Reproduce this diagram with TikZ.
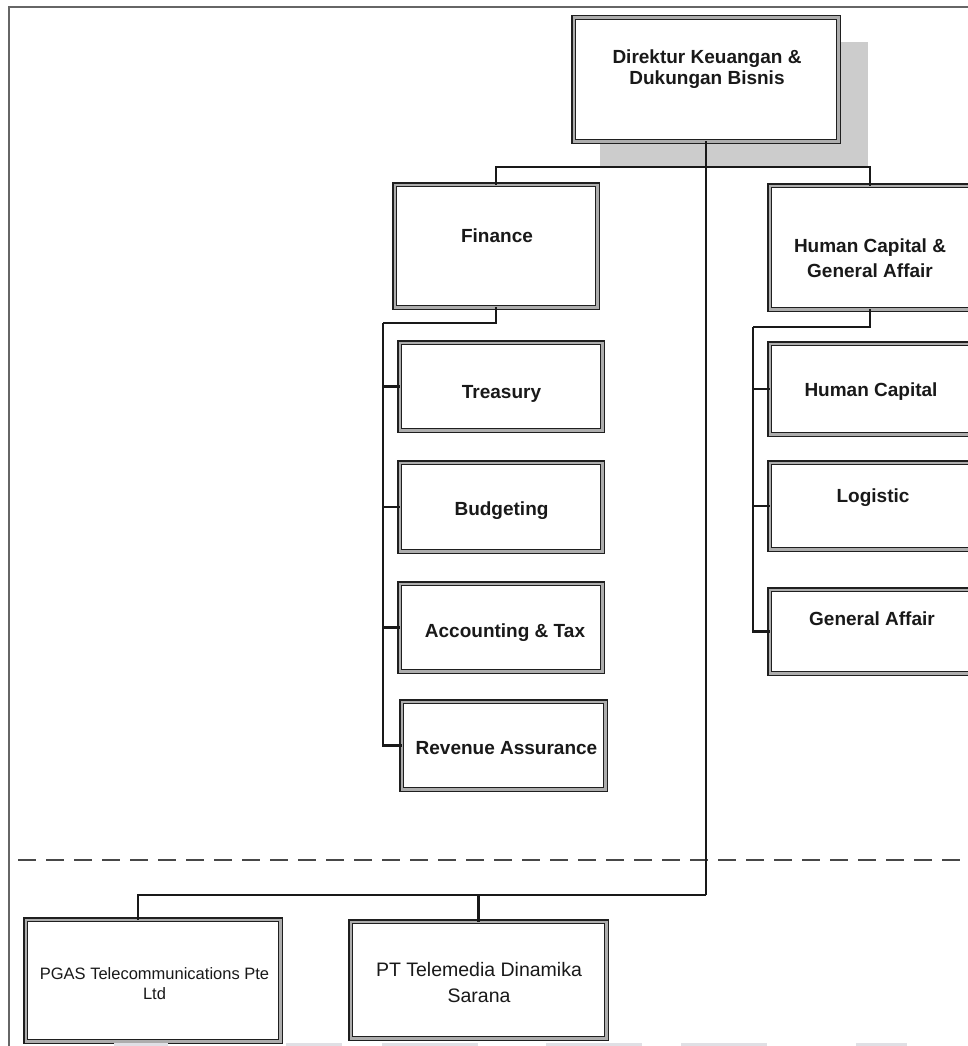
\documentclass[tikz,border=0pt]{standalone}
\usepackage{fontspec}
\setmainfont{Liberation Sans}
\begin{document}
\begin{tikzpicture}[x=1pt,y=-1pt,
  box/.style={draw=black!88, double=black!32, double distance=2.4pt, line width=1.5pt, fill=white, inner sep=0pt, outer sep=0pt},
  conn/.style={draw=black!90, line width=2.3pt},
  lbl/.style={font=\fontsize{19}{21}\selectfont\bfseries, text=black!90, inner sep=0pt, align=center},
  lblhc/.style={lbl, font=\fontsize{19}{25}\selectfont\bfseries},
  lblsm/.style={font=\fontsize{16.5}{20}\selectfont, text=black!90, inner sep=0pt, align=center},
  lblreg/.style={font=\fontsize{19.5}{26}\selectfont, text=black!90, inner sep=0pt, align=center},
  frameline/.style={draw=black!60, line width=1.8pt},
  sepline/.style={draw=black!72, line width=2.2pt, dash pattern=on 18pt off 10pt},
  shadowbox/.style={fill=black!20, draw=none},
  wmark/.style={fill=blue!15!black!12, draw=none}
]
\useasboundingbox (0,0) rectangle (968,1046);
\newcommand\orgbox[5]{\node[box, minimum width={#4-#2-5.4}, minimum height={#5-#3-5.4}] (#1) at ({(#2+#4)/2},{(#3+#5)/2}) {};}

% page frame
\draw[frameline] (968,7) -- (9,7) -- (9,1046);

% shadow of top box
\fill[shadowbox] (600,42) rectangle (868,168);

% boxes
\orgbox{top}{571}{15}{841}{144}
\orgbox{fin}{392}{182}{600}{310}
\orgbox{hc}{767}{183}{973}{312}
\orgbox{tre}{397}{340}{605}{433}
\orgbox{bud}{397}{460}{605}{554}
\orgbox{acc}{397}{581}{605}{674}
\orgbox{rev}{399}{699}{608}{792}
\orgbox{hcap}{767}{341}{973}{437}
\orgbox{log}{767}{460}{973}{552}
\orgbox{ga}{767}{587}{973}{676}
\orgbox{pgas}{23}{917}{283}{1044}
\orgbox{pt}{348}{919}{609}{1041}

% labels
\node[lbl] (topT) at (707,69.5) {Direktur Keuangan \&\\Dukungan Bisnis};
\node[lbl, anchor=base] (finT) at (497,242) {Finance};
\node[lblhc] (hcT) at (870,258.5) {Human Capital \&\\General Affair};
\node[lbl, anchor=base] (treT) at (501.5,398) {Treasury};
\node[lbl, anchor=base] (budT) at (501.5,515) {Budgeting};
\node[lbl, anchor=base] (accT) at (505,637) {Accounting \& Tax};
\node[lbl, anchor=base] (revT) at (506.5,754) {Revenue Assurance};
\node[lbl, anchor=base] (hcapT) at (871,396) {Human Capital};
\node[lbl, anchor=base] (logT) at (873,502) {Logistic};
\node[lbl, anchor=base] (gaT) at (872,625) {General Affair};
\node[lblsm] (pgasT) at (154.5,984) {PGAS Telecommunications Pte\\Ltd};
\node[lblreg] (ptT) at (479,983) {PT Telemedia Dinamika\\Sarana};

% separator
\coordinate (sepL) at (18,860);
\coordinate (sepR) at (968,860);
\draw[sepline] (sepL) -- (sepR);

% connector junctions
\coordinate (topbus) at (706,167);
\coordinate (finbus) at (383,323);
\coordinate (hcbus) at (753,327);
\coordinate (subbus) at (706,895);

% connectors
\draw[conn] (top.south) -- (subbus);
\draw[conn] (fin.north) -- (fin.north |- topbus) -- (hc.north |- topbus) -- (hc.north);
\draw[conn] (fin.south) |- (finbus);
\draw[conn] (finbus) |- (tre.west);
\draw[conn] (finbus) |- (bud.west);
\draw[conn] (finbus) |- (acc.west);
\draw[conn] (finbus) |- (rev.west);
\draw[conn] (hc.south) |- (hcbus);
\draw[conn] (hcbus) |- (hcap.west);
\draw[conn] (hcbus) |- (log.west);
\draw[conn] (hcbus) |- (ga.west);
\draw[conn] ([xshift=-15pt]pgas.north) |- (subbus);
\draw[conn] (pt.north) |- (subbus);

% faint strips at the bottom edge
\fill[wmark] (114,1043) rectangle (168,1046);
\fill[wmark] (286,1043) rectangle (342,1046);
\fill[wmark] (382,1043) rectangle (478,1046);
\fill[wmark] (546,1043) rectangle (642,1046);
\fill[wmark] (681,1043) rectangle (767,1046);
\fill[wmark] (856,1043) rectangle (907,1046);
\end{tikzpicture}
\end{document}
